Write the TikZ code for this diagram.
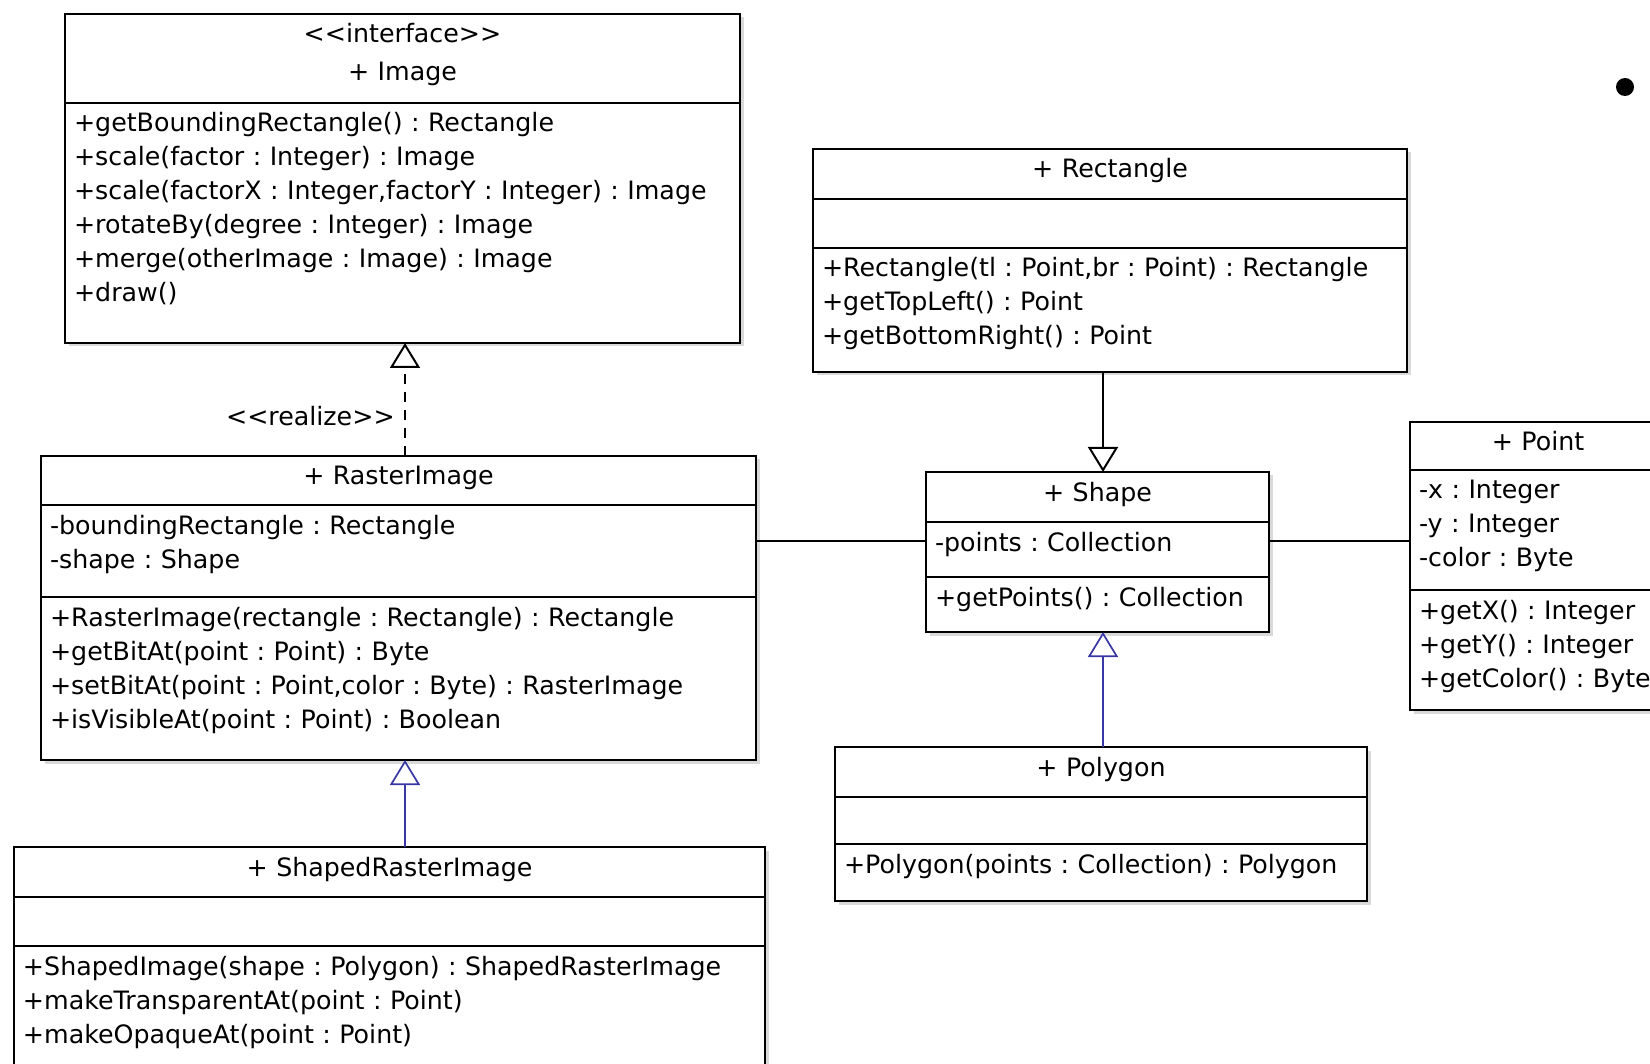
\documentclass[tikz,border=0pt]{standalone}
\usepackage{fontspec}
\setmainfont{DejaVu Sans}
\usetikzlibrary{positioning, arrows.meta, shadows}
\definecolor{genblue}{RGB}{55,55,165}
\frenchspacing

\begin{document}
\begin{tikzpicture}[x=1pt, y=-1pt, font=\fontsize{25.3}{34}\selectfont,
    uml/.style 2 args={draw=black, line width=2pt, fill=white, outer sep=0pt, inner xsep=9pt, inner ysep=0pt,
      text width=#1-18pt, text height=29pt, text depth=#2-29pt, align=left,
      drop shadow={shadow xshift=3.5pt, shadow yshift=-3.5pt, opacity=0.3}},
    head/.style={align=center},
    gen/.style={draw=genblue, line width=1.7pt, -{Triangle[open, length=25pt, width=30pt]}},
    inh/.style={draw=black, line width=2pt, -{Triangle[open, length=25pt, width=30pt]}},
    realize/.style={inh, dash pattern=on 10pt off 8pt},
    assoc/.style={draw=black, line width=2pt}]

    \useasboundingbox (0,0) rectangle (1650,1064);
    \clip (0,0) rectangle (1650,1064);

    % Image
    \node[uml={675pt}{89pt}, head, anchor=north west] (image) at (65,14) {<{}<interface>{}>\\[4pt]+ Image};
    \node[uml={675pt}{240pt}, below=0pt of image] (image-ops) {+getBoundingRectangle() : Rectangle\\
      +scale(factor : Integer) : Image\\
      +scale(factorX : Integer,factorY : Integer) : Image\\
      +rotateBy(degree : Integer) : Image\\
      +merge(otherImage : Image) : Image\\
      +draw()};

    % RasterImage
    \node[uml={715pt}{49pt}, head, below=113pt of image-ops, xshift=-4pt] (raster) {+ RasterImage};
    \node[uml={715pt}{92pt}, below=0pt of raster] (raster-attr) {-boundingRectangle : Rectangle\\
      -shape : Shape};
    \node[uml={715pt}{163pt}, below=0pt of raster-attr] (raster-ops) {+RasterImage(rectangle : Rectangle) : Rectangle\\
      +getBitAt(point : Point) : Byte\\
      +setBitAt(point : Point,color : Byte) : RasterImage\\
      +isVisibleAt(point : Point) : Boolean};

    % ShapedRasterImage
    \node[uml={751pt}{50pt}, head, below=87pt of raster-ops, xshift=-9pt] (shaped) {+ ShapedRasterImage};
    \node[uml={751pt}{49pt}, below=0pt of shaped] (shaped-attr) {};
    \node[uml={751pt}{160pt}, below=0pt of shaped-attr] (shaped-ops) {+ShapedImage(shape : Polygon) : ShapedRasterImage\\
      +makeTransparentAt(point : Point)\\
      +makeOpaqueAt(point : Point)};

    % Rectangle
    \node[uml={594pt}{50pt}, head, anchor=north west] (rect) at (813,149) {+ Rectangle};
    \node[uml={594pt}{49pt}, below=0pt of rect] (rect-attr) {};
    \node[uml={594pt}{124pt}, below=0pt of rect-attr] (rect-ops) {+Rectangle(tl : Point,br : Point) : Rectangle\\
      +getTopLeft() : Point\\
      +getBottomRight() : Point};

    % Shape
    \node[uml={343pt}{50pt}, head, below=100pt of rect-ops, xshift=-12.5pt] (shape) {+ Shape};
    \node[uml={343pt}{55pt}, below=0pt of shape] (shape-attr) {-points : Collection};
    \node[uml={343pt}{55pt}, below=0pt of shape-attr] (shape-ops) {+getPoints() : Collection};

    % Polygon
    \node[uml={532pt}{50pt}, head, below=115pt of shape-ops, xshift=3.5pt] (poly) {+ Polygon};
    \node[uml={532pt}{47pt}, below=0pt of poly] (poly-attr) {};
    \node[uml={532pt}{57pt}, below=0pt of poly-attr] (poly-ops) {+Polygon(points : Collection) : Polygon};

    % Point
    \node[uml={256pt}{48pt}, head, anchor=north west] (point) at (1410,422) {+ Point};
    \node[uml={256pt}{120pt}, below=0pt of point] (point-attr) {-x : Integer\\
      -y : Integer\\
      -color : Byte};
    \node[uml={256pt}{120pt}, below=0pt of point-attr] (point-ops) {+getX() : Integer\\
      +getY() : Integer\\
      +getColor() : Byte};

    \node[circle, fill=black, inner sep=0pt, minimum size=18pt] (dot) at (1625,87) {};

    % relations
    \draw[realize] ([xshift=6.5pt]raster.north) -- ([xshift=6.5pt]raster.north |- image-ops.south)
      node[pos=0.35, left=6pt] {<{}<realize>{}>};
    \draw[gen] ([xshift=6.5pt]raster-ops.south |- shaped.north) -- ([xshift=6.5pt]raster-ops.south);
    \draw[inh] ([xshift=5.5pt]shape.north |- rect-ops.south) -- ([xshift=5.5pt]shape.north);
    \draw[gen] ([xshift=2pt]poly.north) -- ([xshift=2pt]poly.north |- shape-ops.south);
    \draw[assoc] ([yshift=9pt]raster-attr.east |- shape-attr.west) -- ([yshift=9pt]shape-attr.west);
    \draw[assoc] ([yshift=9pt]shape-attr.east) -- ([yshift=9pt]shape-attr.east -| point-attr.west);
\end{tikzpicture}
\end{document}
